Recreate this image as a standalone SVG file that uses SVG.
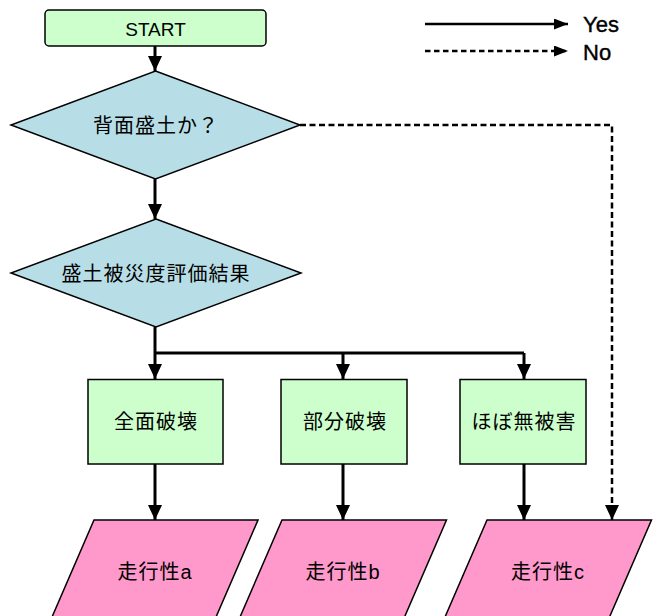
<svg xmlns="http://www.w3.org/2000/svg" width="653" height="616" viewBox="0 0 653 616">
<defs>
<marker id="ah" viewBox="0 0 15 14" refX="15" refY="7" markerWidth="15" markerHeight="14" markerUnits="userSpaceOnUse" orient="auto">
<path d="M0,0 L15,7 L0,14 Z" fill="#000"/>
</marker>
<marker id="ahs" viewBox="0 0 14 11" refX="14" refY="5.5" markerWidth="14" markerHeight="11" markerUnits="userSpaceOnUse" orient="auto">
<path d="M0,0 L14,5.5 L0,11 Z" fill="#000"/>
</marker>
</defs>
<style>
.g{fill:#ccffcc;stroke:#000;stroke-width:1.5}
.d{fill:#b7dee6;stroke:#000;stroke-width:1.5}
.p{fill:#ff99cc;stroke:#000;stroke-width:1.5}
.t{font-family:"Liberation Sans","Noto Sans CJK JP",sans-serif;font-size:20px;text-anchor:middle;dominant-baseline:central;fill:#000;letter-spacing:1px}
.s{font-family:"Liberation Sans",Arial,sans-serif;font-size:19px;text-anchor:middle;dominant-baseline:central;fill:#000}
.l{font-family:"Liberation Sans",Arial,sans-serif;font-size:22px;fill:#000;stroke:#000;stroke-width:0.4}
.c{fill:none;stroke:#000;stroke-width:3}
.cd{fill:none;stroke:#000;stroke-width:2.5;stroke-dasharray:6,3.5}
</style>
<g id="connectors">
<path class="c" d="M155,46 V71" marker-end="url(#ah)"/>
<path class="c" d="M155,179 V219" marker-end="url(#ah)"/>
<path class="c" d="M155,327 V379" marker-end="url(#ah)"/>
<path class="c" d="M155,353 H524"/>
<path class="c" d="M343,353 V379" marker-end="url(#ah)"/>
<path class="c" d="M524,353 V379" marker-end="url(#ah)"/>
<path class="c" d="M155,464 V520" marker-end="url(#ah)"/>
<path class="c" d="M343,464 V520" marker-end="url(#ah)"/>
<path class="c" d="M524,464 V520" marker-end="url(#ah)"/>
<path class="cd" d="M300,125 H612 V520" marker-end="url(#ah)"/>
</g>
<g id="legend">
<path fill="none" stroke="#000" stroke-width="2.4" d="M425,24 H568" marker-end="url(#ahs)"/>
<path fill="none" stroke="#000" stroke-width="2.4" stroke-dasharray="5.5,3.5" d="M425,51 H568" marker-end="url(#ahs)"/>
<text class="l" x="583" y="32">Yes</text>
<text class="l" x="583" y="60">No</text>
</g>
<g id="start">
<rect class="g" x="45" y="10" width="221" height="36" rx="4"/>
<text class="s" x="155.5" y="29">START</text>
</g>
<g id="q1">
<polygon class="d" points="155.5,71 300,125 155.5,179 11,125"/>
<text class="t" x="156" y="126">背面盛土か？</text>
</g>
<g id="q2">
<polygon class="d" points="156,219 301,273 156,327 11,273"/>
<text class="t" x="156" y="274">盛土被災度評価結果</text>
</g>
<g id="b1">
<rect class="g" x="88" y="379.5" width="135" height="84.5"/>
<text class="t" x="156" y="422">全面破壊</text>
</g>
<g id="b2">
<rect class="g" x="281" y="379.5" width="126" height="84.5"/>
<text class="t" x="345" y="422">部分破壊</text>
</g>
<g id="b3">
<rect class="g" x="460" y="379.5" width="126" height="84.5"/>
<text class="t" x="524" y="422">ほぼ無被害</text>
</g>
<g id="p1">
<polygon class="p" points="94,520 258,520 213,624 49,624"/>
<text class="t" x="155" y="572">走行性a</text>
</g>
<g id="p2">
<polygon class="p" points="282,520 446.5,520 401.5,624 237,624"/>
<text class="t" x="343" y="572">走行性b</text>
</g>
<g id="p3">
<polygon class="p" points="487,520 651.5,520 606.5,624 442,624"/>
<text class="t" x="548" y="572">走行性c</text>
</g>
</svg>
